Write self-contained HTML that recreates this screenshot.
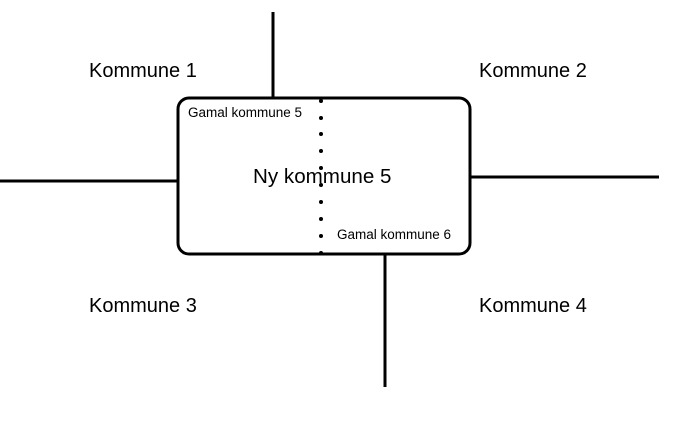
<!DOCTYPE html>
<html><head><meta charset="utf-8"><style>
body{margin:0;background:#fff;}
svg{display:block;font-family:"Liberation Sans",sans-serif;}
</style></head><body>
<svg width="700" height="432" viewBox="0 0 700 432">
<g stroke="#000" stroke-width="3" fill="none">
<line x1="273" y1="12" x2="273" y2="98"/>
<line x1="0" y1="181" x2="178" y2="181"/>
<line x1="470" y1="177" x2="659" y2="177"/>
<line x1="385" y1="254" x2="385" y2="387"/>
<rect x="178" y="98" width="292" height="156" rx="11" ry="11"/>
</g>
<g fill="#000">
<circle cx="321" cy="101" r="2"/><circle cx="321" cy="118" r="2"/><circle cx="321" cy="134" r="2"/><circle cx="321" cy="151" r="2"/><circle cx="321" cy="168" r="2"/><circle cx="321" cy="185" r="2"/><circle cx="321" cy="202" r="2"/><circle cx="321" cy="219" r="2"/><circle cx="321" cy="236" r="2"/><circle cx="321" cy="253" r="2"/>
</g>
<g fill="#000">
<text x="89" y="77" font-size="20">Kommune 1</text>
<text x="479" y="77" font-size="20">Kommune 2</text>
<text x="89" y="312" font-size="20">Kommune 3</text>
<text x="479" y="312" font-size="20">Kommune 4</text>
<text x="253" y="183" font-size="20.6">Ny kommune 5</text>
<text x="188" y="117" font-size="13.5">Gamal kommune 5</text>
<text x="337" y="239" font-size="13.5">Gamal kommune 6</text>
</g>
</svg>
</body></html>
